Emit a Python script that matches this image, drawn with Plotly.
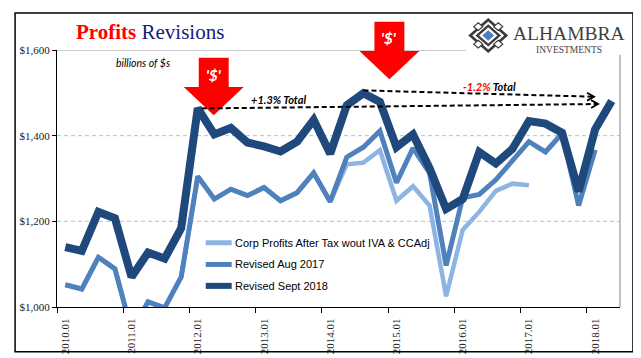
import plotly.graph_objects as go

# ---------------- data ----------------
TICK_LABELS = ["2010.01", "2011.01", "2012.01", "2013.01", "2014.01",
               "2015.01", "2016.01", "2017.01", "2018.01"]
TICK_POS = [0, 4, 8, 12, 16, 20, 24, 28, 32]          # quarter index of each label
N_QUARTERS = 34

SERIES_NAMES = ["Corp Profits After Tax wout IVA & CCAdj",
                "Revised Aug 2017", "Revised Sept 2018"]

revised_sept_2018 = [1140, 1131, 1222, 1207, 1070, 1127, 1113, 1184,
                     1464, 1403, 1418, 1384, 1375, 1363, 1386, 1437,
                     1358, 1471, 1499, 1479, 1373, 1403, 1324, 1229,
                     1252, 1362, 1335, 1369, 1434, 1428, 1407, 1270,
                     1415, 1481]
revised_aug_2017 = [1052, 1042, 1116, 1089, 945, 1012, 998, 1070,
                    1305, 1252, 1275, 1260, 1279, 1248, 1267, 1313,
                    1246, 1350, 1373, 1411, 1290, 1371, 1313, 1097,
                    1255, 1263, 1297, 1343, 1386, 1362, 1405, 1237,
                    1367]
corp_profits_orig = [1052, 1042, 1116, 1089, 945, 1012, 998, 1070,
                     1305, 1252, 1275, 1260, 1279, 1248, 1267, 1313,
                     1246, 1333, 1337, 1366, 1248, 1282, 1237, 1025,
                     1180, 1222, 1271, 1288, 1284]

Y_TICKS = [1000, 1200, 1400, 1600]
Y_TICK_TEXT = [f"${v:,}" for v in Y_TICKS]

# ---------------- geometry helpers (pixel -> paper) ----------------
W, H = 641, 358
ML, MR, MT, MB = 48, 29, 42, 52
PL, PR, PT, PB = ML, W - MR, MT, H - MB
PW, PH = PR - PL, PB - PT


def px(x):
    return (x - PL) / PW


def py(y):
    return (PB - y) / PH


def path(points):
    return "M " + " L ".join(f"{px(x):.5f},{py(y):.5f}" for x, y in points) + " Z"


C_LIGHT = "#8DB4E2"
C_MID = "#4F81BD"
C_DARK = "#1F497D"
SERIF = "Liberation Serif"
SANS = "Liberation Sans"
CAL = "Lato"

fig = go.Figure()
for name, vals, col, w in [
    (SERIES_NAMES[0], corp_profits_orig, C_LIGHT, 4.5),
    (SERIES_NAMES[1], revised_aug_2017, C_MID, 5),
    (SERIES_NAMES[2], revised_sept_2018, C_DARK, 8),
]:
    fig.add_trace(go.Scatter(
        x=list(range(len(vals))), y=vals, mode="lines", name=name,
        line=dict(color=col, width=w), showlegend=False,
    ))

shapes = []
# gridlines
for v in Y_TICKS[1:3]:
    shapes.append(dict(type="line", xref="paper", yref="y", x0=0, x1=1, y0=v, y1=v,
                       line=dict(color="#BFBFBF", width=1, dash="4px,3px"), layer="below"))
# top gray border (partly hidden by logo) and right gray border
shapes.append(dict(type="line", xref="paper", yref="y", x0=0, x1=px(458), y0=1600, y1=1600,
                   line=dict(color="#9A9A9A", width=1.2), layer="below"))
shapes.append(dict(type="line", xref="paper", yref="paper", x0=1, x1=1, y0=0, y1=py(47),
                   line=dict(color="#9A9A9A", width=1.2), layer="below"))
# outer chart border
shapes.append(dict(type="rect", xref="paper", yref="paper", x0=px(6), x1=px(625),
                   y0=py(352), y1=py(4), line=dict(color="black", width=1.5)))

# red arrows
for (xl, xr, top, mid_y, hl, hr, tipx, tipy) in [
    (190, 220, 50, 80, 175, 235, 205, 109),
    (366, 396, 13, 43, 351, 411, 381, 72),
]:
    pts = [(xl, top), (xr, top), (xr, mid_y), (hr, mid_y), (tipx, tipy), (hl, mid_y), (xl, mid_y)]
    shapes.append(dict(type="path", xref="paper", yref="paper", path=path(pts),
                       fillcolor="#FF0000", line=dict(width=0), layer="above"))

# dashed arrows
for (x0, y0, x1, y1) in [(193, 102, 590, 97.5), (355, 83.5, 586, 90)]:
    shapes.append(dict(type="line", xref="paper", yref="paper",
                       x0=px(x0), y0=py(y0), x1=px(x1), y1=py(y1),
                       line=dict(color="black", width=2, dash="5px,3px")))
    shapes.append(dict(type="path", xref="paper", yref="paper",
                       path="M " + f"{px(x1-7):.5f},{py(y1-4):.5f} L {px(x1):.5f},{py(y1):.5f} L {px(x1-7):.5f},{py(y1+4):.5f}",
                       line=dict(color="black", width=1.8)))

# legend samples
for (col, w, yy) in [(C_LIGHT, 5, 240), (C_MID, 5, 262.3), (C_DARK, 6, 284.3)]:
    shapes.append(dict(type="line", xref="paper", yref="paper",
                       x0=px(197), x1=px(223), y0=py(yy), y1=py(yy),
                       line=dict(color=col, width=w)))

# logo diamond
cx, cy = 480, 27
for (s, col) in [(1.0, "#3A3A3A"), (0.8, "white"), (0.64, "#3A3A3A"), (0.46, "white"), (0.3, "#4F7FC0")]:
    hw, hh = 20 * s, 18 * s
    shapes.append(dict(type="path", xref="paper", yref="paper",
                       path=path([(cx, cy - hh), (cx + hw, cy), (cx, cy + hh), (cx - hw, cy)]),
                       fillcolor=col, line=dict(width=0)))
for (dx, dy) in [(-10, -9), (10, -9), (-10, 9), (10, 9)]:
    shapes.append(dict(type="path", xref="paper", yref="paper",
                       path=path([(cx + dx, cy + dy - 4), (cx + dx + 4.5, cy + dy), (cx + dx, cy + dy + 4), (cx + dx - 4.5, cy + dy)]),
                       fillcolor="white", line=dict(color="#3A3A3A", width=1.2)))

annotations = []


def txt(x, y, text, size, family, color="black", xanchor="center"):
    annotations.append(dict(xref="paper", yref="paper", x=px(x), y=py(y), text=text,
                            showarrow=False, xanchor=xanchor, yanchor="middle",
                            borderpad=0,
                            font=dict(size=size, family=family, color=color)))


txt(66, 24, "<b><span style='color:#FF0000'>Profits</span></b> Revisions", 21, SERIF,
    color="#14237A", xanchor="left")
txt(106, 55.5, "<i>billions of $s</i>", 10.5, CAL, xanchor="left")
txt(205, 68, "<b><i>'$'</i></b>", 15, CAL, color="white")
txt(381, 30, "<b><i>'$'</i></b>", 15, CAL, color="white")
txt(241, 92.5, "<b><i>+1.3% Total</i></b>", 11, CAL, xanchor="left")
txt(454, 79, "<b><i><span style='color:#FF0000'>-1.2%</span> Total</i></b>", 11, CAL, xanchor="left")
txt(561, 25, "ALHAMBRA", 19.5, SERIF, color="#3F3F3F")
txt(561, 41.5, "INVESTMENTS", 9.5, SERIF, color="#3F3F3F")
for name, yy in zip(SERIES_NAMES, [240, 262.3, 284.3]):
    txt(225, yy, name, 11, SANS, xanchor="left")

fig.update_layout(
    width=W, height=H,
    margin=dict(l=ML, r=MR, t=MT, b=MB, pad=0),
    paper_bgcolor="white", plot_bgcolor="white",
    shapes=shapes, annotations=annotations,
    showlegend=False,
    xaxis=dict(
        range=[-0.5, N_QUARTERS - 0.5],
        tickmode="array", tickvals=TICK_POS, ticktext=TICK_LABELS,
        tickangle=-90, ticks="", showgrid=False, zeroline=False,
        showline=True, linecolor="black", linewidth=1,
        tickfont=dict(family=SERIF, size=11, color="#1A1A1A"),
        minor=dict(ticks="outside", tickmode="array",
                   tickvals=[p - 0.5 for p in TICK_POS] + [N_QUARTERS - 0.5 - 2],
                   ticklen=5, tickcolor="black", tickwidth=1, showgrid=False),
        ticklabelstandoff=6,
    ),
    yaxis=dict(
        range=[1000, 1600], tickmode="array", tickvals=Y_TICKS, ticktext=Y_TICK_TEXT,
        ticks="outside", ticklen=4, tickcolor="black",
        showgrid=False, zeroline=False,
        showline=True, linecolor="black", linewidth=1,
        tickfont=dict(family=SERIF, size=11, color="#1A1A1A"),
    ),
)

fig.write_html("out.html")
